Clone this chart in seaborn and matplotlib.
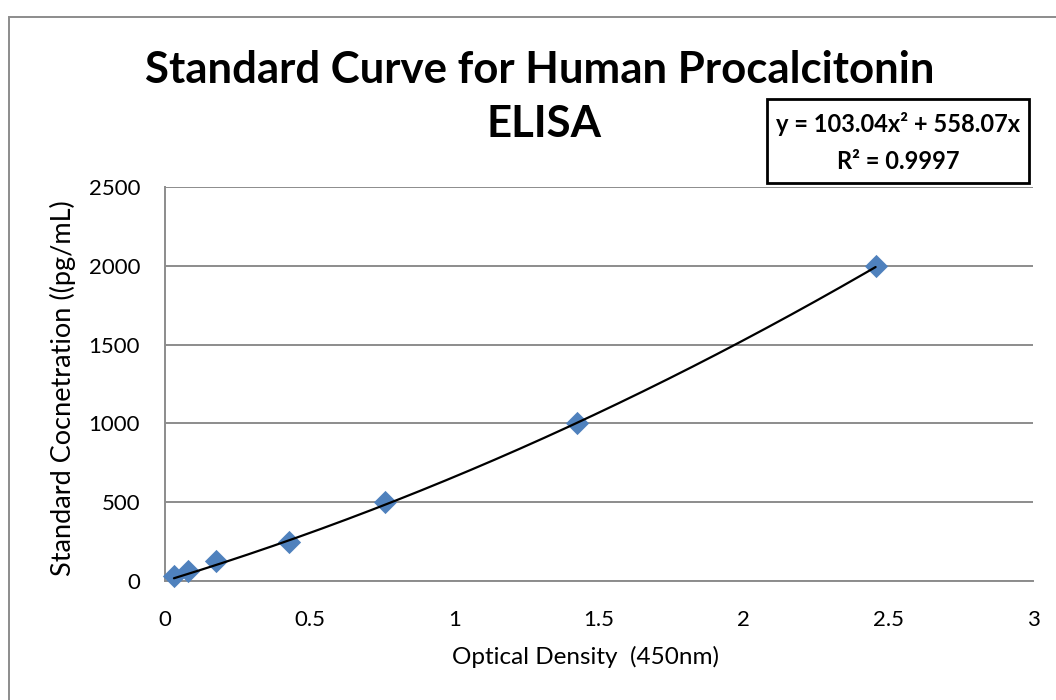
import numpy as np
import pandas as pd
import matplotlib
matplotlib.use("Agg")
import matplotlib.pyplot as plt
import seaborn as sns

# Standard points: optical density vs. known concentration
od_450 = [0.031, 0.080, 0.177, 0.430, 0.759, 1.424, 2.456]
conc_pg_ml = [31.25, 62.5, 125, 250, 500, 1000, 2000]

# Polynomial trendline (zero intercept)
coef_a = 103.04
coef_b = 558.07
r_squared = 0.9997

sns.set_theme(style="white")
plt.rcParams["font.family"] = ["Lato", "DejaVu Sans"]
plt.rcParams["text.color"] = "black"
plt.rcParams["axes.labelcolor"] = "black"

W, H = 1056, 700

df = pd.DataFrame({"od": od_450, "conc": conc_pg_ml})
xs = np.linspace(min(od_450), max(od_450), 200)
fit = pd.DataFrame({"od": xs, "conc": coef_a * xs**2 + coef_b * xs})

fig = plt.figure(figsize=(W / 100, H / 100), dpi=100)
ax = fig.add_axes([165 / W, 1 - 581 / H, (1033 - 165) / W, (581 - 187) / H])

sns.scatterplot(data=df, x="od", y="conc", marker="D", s=140, color="#4F81BD",
                edgecolor="#4F81BD", linewidth=0, ax=ax, zorder=3, clip_on=False)
sns.lineplot(data=fit, x="od", y="conc", color="black", linewidth=1.6, ax=ax, zorder=4)

ax.set_xlim(0, 3)
ax.set_ylim(0, 2500)
ax.set_xticks([0, 0.5, 1, 1.5, 2, 2.5, 3])
ax.set_xticklabels(["0", "0.5", "1", "1.5", "2", "2.5", "3"])
ax.set_yticks([0, 500, 1000, 1500, 2000, 2500])
ax.yaxis.grid(True, color="#8c8c8c", linewidth=1.4)
ax.xaxis.grid(False)
for side in ["top", "right"]:
    ax.spines[side].set_visible(False)
for side in ["left", "bottom"]:
    ax.spines[side].set_color("#8c8c8c")
    ax.spines[side].set_linewidth(1.4)
ax.tick_params(axis="both", labelsize=16, colors="black", length=0)
ax.tick_params(axis="x", pad=21)
ax.tick_params(axis="y", pad=18)

ax.set_xlabel("Optical Density  (450nm)", fontsize=17.5)
ax.set_ylabel("Standard Cocnetration ((pg/mL)", fontsize=19.5)
ax.xaxis.label.set_va("center")
ax.yaxis.label.set_va("center")
ax.xaxis.set_label_coords((586 - 165) / 868, (581 - 657) / 394)
ax.yaxis.set_label_coords((63 - 165) / 868, (581 - 388) / 394)

fig.text(540 / W, 1 - 83 / H, "Standard Curve for Human Procalcitonin",
         ha="center", va="baseline", fontsize=31.5, fontweight="bold")
fig.text(544 / W, 1 - 137 / H, "ELISA",
         ha="center", va="baseline", fontsize=31.5, fontweight="bold")

# Trendline equation box
fig.patches.append(plt.Rectangle((767 / W, 1 - 183 / H), 262 / W, 84 / H,
                                 transform=fig.transFigure, facecolor="white",
                                 edgecolor="black", linewidth=2, zorder=5))
fig.text(898 / W, 1 - 132 / H, f"y = {coef_a:.2f}x² + {coef_b:.2f}x",
         ha="center", va="baseline", fontsize=17, fontweight="bold", zorder=6)
fig.text(898 / W, 1 - 169 / H, f"R² = {r_squared:.4f}",
         ha="center", va="baseline", fontsize=17, fontweight="bold", zorder=6)

# Outer chart border
fig.patches.append(plt.Rectangle((9 / W, -10 / H), 1060 / W, (H + 10 - 17) / H,
                                 transform=fig.transFigure, fill=False,
                                 edgecolor="#8c8c8c", linewidth=1.4))

fig.savefig("out.png", dpi=100)
